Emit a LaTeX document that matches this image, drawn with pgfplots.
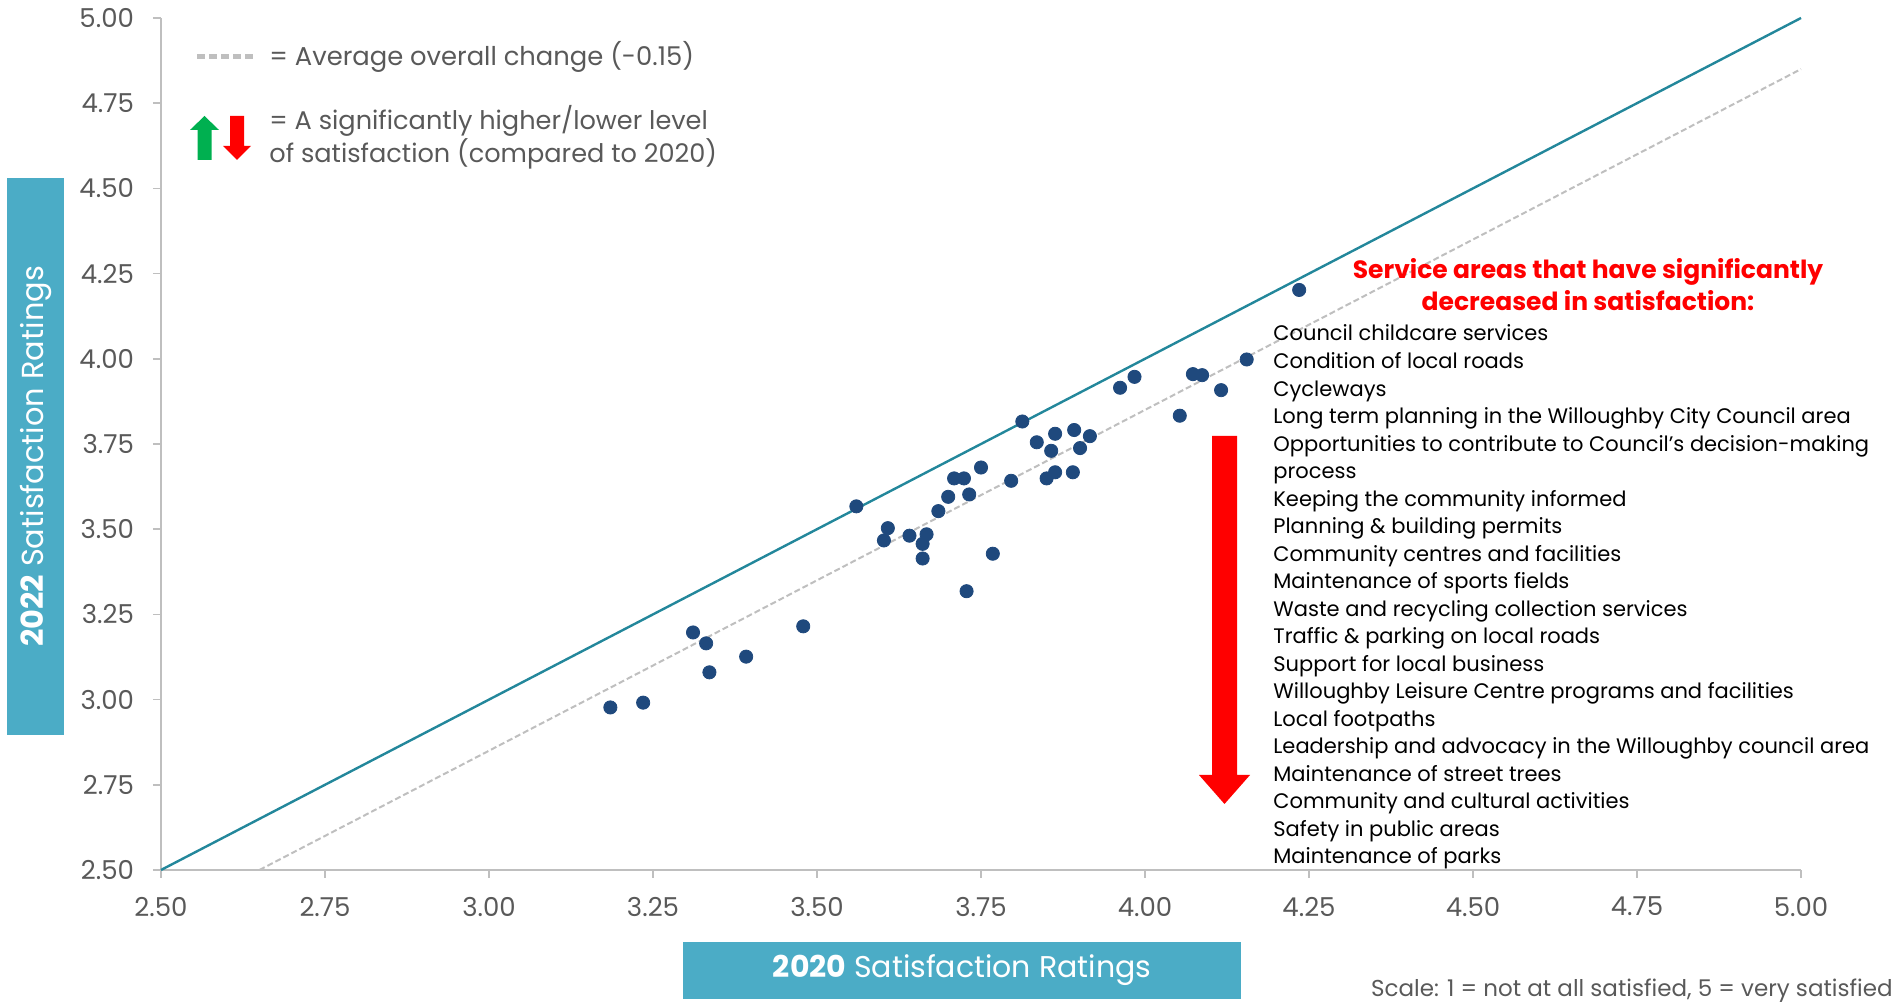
\documentclass[border=0pt]{standalone}
\usepackage{fontspec}
\setmainfont{Poppins}
\usepackage{pgfplots}
\pgfplotsset{compat=1.18}
\definecolor{ptblue}{RGB}{31,73,125}
\definecolor{diag}{RGB}{35,135,155}
\definecolor{avggray}{RGB}{191,191,191}
\definecolor{labgray}{RGB}{89,89,89}
\definecolor{boxteal}{RGB}{75,172,198}
\definecolor{upgreen}{RGB}{0,176,80}
\definecolor{downred}{RGB}{255,0,0}

\begin{document}
\begin{tikzpicture}
\begin{axis}[
    scale only axis,
    width=820pt, height=426pt,
    xmin=2.5, xmax=5, ymin=2.5, ymax=5,
    xtick={2.5,2.75,3,3.25,3.5,3.75,4,4.25,4.5,4.75,5},
    ytick={2.5,2.75,3,3.25,3.5,3.75,4,4.25,4.5,4.75,5},
    axis x line*=bottom, axis y line*=left,
    axis line style={avggray, line width=0.8pt, -},
    tick align=outside, major tick length=4pt,
    tick style={avggray, line width=0.8pt},
    tick label style={font=\fontsize{13}{15}\selectfont, text=labgray},
    xticklabel style={yshift=-6pt},
    yticklabel style={xshift=-6pt},
    /pgf/number format/fixed,
    /pgf/number format/fixed zerofill,
    /pgf/number format/precision=2,
    /pgf/number format/assume math mode=true,
    clip=false,
]
% y = x reference line
\addplot[diag, line width=1.2pt] coordinates {(2.5,2.5) (5,5)};
% average overall change
\addplot[avggray, line width=1pt, dash pattern=on 3pt off 1.5pt] coordinates {(2.65,2.5) (5,4.85)};
% service areas 2020 vs 2022
\addplot[only marks, mark=*, mark size=3.3pt, color=ptblue] coordinates {
(3.560,3.567) (3.608,3.503) (3.602,3.467) (3.641,3.481) (3.667,3.485)
(3.661,3.457) (3.661,3.414) (3.685,3.553) (3.700,3.595) (3.709,3.649)
(3.724,3.649) (3.732,3.602) (3.750,3.681) (3.768,3.428) (3.728,3.318)
(3.796,3.642) (3.813,3.816) (3.835,3.755) (3.863,3.780) (3.857,3.730)
(3.892,3.791) (3.916,3.773) (3.901,3.738) (3.863,3.667) (3.850,3.649)
(3.890,3.667) (3.962,3.915) (3.984,3.947) (3.479,3.215) (3.311,3.197)
(3.331,3.165) (3.336,3.080) (3.392,3.126) (3.185,2.977) (3.235,2.991)
(4.235,4.202) (4.155,3.998) (4.073,3.955) (4.087,3.952) (4.116,3.908)
(4.053,3.833)
};
\end{axis}
% axis titles
\node[fill=boxteal, rotate=90, minimum width=278.5pt, minimum height=28.5pt,
      inner sep=0pt, text=white, font=\fontsize{15.2}{17}\selectfont]
  at (-62.75pt,206.75pt) {\textbf{2022} Satisfaction Ratings};
\node[fill=boxteal, minimum width=279pt, minimum height=28.5pt,
      inner sep=0pt, text=white, font=\fontsize{15}{17}\selectfont]
  at (400.5pt,-50.25pt) {\textbf{2020} Satisfaction Ratings};
% key
\draw[avggray, line width=2.5pt, dash pattern=on 4pt off 2pt] (18pt,406.5pt) -- (46.5pt,406.5pt);
\node[anchor=west, inner sep=0pt, text=labgray, font=\fontsize{12.9}{15}\selectfont]
  at (54pt,406.5pt) {= Average overall change (-0.15)};
\fill[upgreen] (18.25pt,355pt) -- (25.25pt,355pt) -- (25.25pt,370pt) -- (29pt,370pt)
  -- (21.75pt,377pt) -- (14.5pt,370pt) -- (18.25pt,370pt) -- cycle;
\fill[downred] (34.5pt,377pt) -- (41.5pt,377pt) -- (41.5pt,362pt) -- (45pt,362pt)
  -- (38pt,355pt) -- (31pt,362pt) -- (34.5pt,362pt) -- cycle;
\node[anchor=west, inner sep=0pt, text=labgray, font=\fontsize{12.8}{15}\selectfont]
  at (54pt,374.5pt) {= A significantly higher/lower level};
\node[anchor=west, inner sep=0pt, text=labgray, font=\fontsize{12.8}{15}\selectfont]
  at (54pt,358pt) {of satisfaction (compared to 2020)};
% service areas that decreased
\node[align=center, text=downred, font=\bfseries\fontsize{12.5}{16}\selectfont]
  at (713.5pt,292.5pt) {Service areas that have significantly\\decreased in satisfaction:};
\foreach \t [count=\i from 0] in {
  Council childcare services,
  Condition of local roads,
  Cycleways,
  Long term planning in the Willoughby City Council area,
  Opportunities to contribute to Council’s decision-making,
  process,
  Keeping the community informed,
  Planning \& building permits,
  Community centres and facilities,
  Maintenance of sports fields,
  Waste and recycling collection services,
  Traffic \& parking on local roads,
  Support for local business,
  Willoughby Leisure Centre programs and facilities,
  Local footpaths,
  Leadership and advocacy in the Willoughby council area,
  Maintenance of street trees,
  Community and cultural activities,
  Safety in public areas,
  Maintenance of parks}
  \node[anchor=base west, inner sep=0pt, font=\fontsize{10.5}{13}\selectfont]
    at (556pt,{264.5pt-\i*13.76pt}) {\t};
\fill[downred] (525.5pt,217pt) -- (538pt,217pt) -- (538pt,47.5pt) -- (544.5pt,47.5pt)
  -- (531.75pt,33pt) -- (519pt,47.5pt) -- (525.5pt,47.5pt) -- cycle;
% scale note
\node[anchor=east, inner sep=0pt, text=labgray, font=\fontsize{11.5}{14}\selectfont]
  at (866pt,-60.5pt) {Scale: 1 = not at all satisfied, 5 = very satisfied};
\path[use as bounding box] (-80.5pt,-67pt) rectangle (869pt,435pt);
\end{tikzpicture}
\end{document}
